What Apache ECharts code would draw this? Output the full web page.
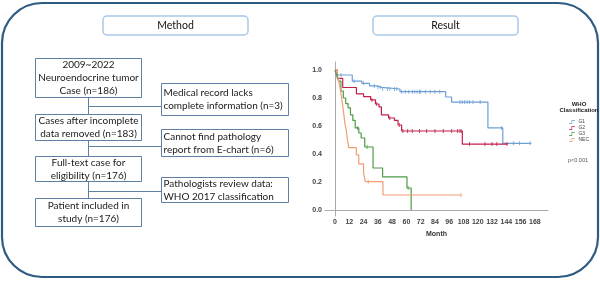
<!DOCTYPE html>
<html>
<head>
<meta charset="utf-8">
<script src="https://cdn.jsdelivr.net/npm/echarts@6/dist/echarts.min.js"></script>
<style>html,body{margin:0;padding:0;background:#fff}#c{width:600px;height:281px}</style>
</head>
<body>
<div id="c"></div>
<script>
// ---- data ----
const monthTicks = [0, 12, 24, 36, 48, 60, 72, 84, 96, 108, 120, 132, 144, 156, 168];
const survTicks = [0, 0.2, 0.4, 0.6, 0.8, 1.0];
const groupNames = ['G1', 'G2', 'G3', 'NEC'];

const g1Steps = [[0,1],[1.5,0.964],[14.5,0.92],[22.5,0.905],[29,0.886],[35,0.876],[39,0.864],[54.6,0.845],[93,0.807],[98,0.771],[128.5,0.586],[141,0.476],[165,0.476]];
const g1Censor = [[5,0.964],[16,0.92],[24,0.905],[33,0.886],[36,0.876],[38,0.876],[40,0.864],[44,0.864],[46,0.864],[50,0.864],[52,0.864],[56,0.845],[59,0.845],[62,0.845],[65,0.845],[67,0.845],[69,0.845],[71,0.845],[72,0.845],[76,0.845],[80,0.845],[84,0.845],[88,0.845],[105,0.771],[107,0.771],[109,0.771],[111,0.771],[113,0.771],[116,0.771],[122,0.771],[140,0.586],[150,0.476],[155,0.476],[164,0.476]];

const g2Steps = [[0,1],[2,0.94],[6.5,0.875],[18,0.83],[24,0.81],[30,0.786],[34,0.757],[37,0.736],[39,0.68],[45,0.657],[50,0.64],[53,0.607],[56,0.564],[107,0.471],[145,0.471]];
const g2Censor = [[31,0.786],[35,0.757],[46,0.657],[54,0.607],[57,0.564],[61,0.564],[65,0.564],[71,0.564],[77,0.564],[84,0.564],[91,0.564],[98,0.564],[103,0.564],[105,0.564],[106,0.564],[113,0.471],[126,0.471],[132,0.471],[136,0.471],[144.5,0.471]];

const g3Steps = [[0,1],[1.5,0.96],[3,0.92],[5,0.85],[7,0.80],[9,0.76],[11,0.73],[13,0.68],[15,0.64],[17,0.586],[20,0.55],[22,0.514],[25,0.45],[32,0.30],[40,0.236],[60.5,0.157],[64,0]];
const g3Censor = [[2,0.96],[19,0.586],[27,0.45],[61.5,0.157]];

const necSteps = [[0,1],[2,0.96],[3.5,0.91],[5,0.83],[6.3,0.76],[7.3,0.69],[8.3,0.62],[9.3,0.58],[10.3,0.512],[11.5,0.445],[18,0.393],[20,0.329],[24,0.262],[25.5,0.202],[40.3,0.107],[106,0.107]];
const necCensor = [[28,0.202],[106,0.107]];

const flowMain = [
  ['2009~2022', 'Neuroendocrine tumor', 'Case (n=186)'],
  ['Cases after incomplete', 'data removed (n=183)'],
  ['Full-text case for', 'eligibility (n=176)'],
  ['Patient included in', 'study (n=176)']
];
const flowSide = [
  ['Medical record lacks', 'complete information (n=3)'],
  ['Cannot find pathology', 'report from E-chart (n=6)'],
  ['Pathologists review data:', 'WHO 2017 classification']
];
const panelTitles = ['Method', 'Result'];
const legendTitle = ['WHO', 'Classification'];
const pText = 'p<0.001';

// ---- layout / styles ----
const colors = ['#6d9fd5', '#c21f48', '#4f9a45', '#f29d73'];
const FONT = 'Lato, "Liberation Sans", sans-serif';
const boxStroke = '#5f7fa5';
const mainBoxes = [[35,58,106,39],[35,114,106,26],[35,156,106,25],[35,198,106,28]];
const sideBoxes = [[161,83,127,32],[161,129,127,27],[161,177,127,25]];
const lineH = 13;

const g = [];
g.push({type:'rect', shape:{x:2,y:3,width:596,height:274,r:40}, style:{fill:'none', stroke:'#2f5b82', lineWidth:2.2}, z:1});
[[103,16,145,19],[373,16,145,19]].forEach((b,i)=>{
  g.push({type:'rect', shape:{x:b[0],y:b[1],width:b[2],height:b[3],r:4}, style:{fill:'#fff', stroke:'#a9c8e8', lineWidth:1.5}, z:2});
  g.push({type:'text', style:{text:panelTitles[i], x:b[0]+b[2]/2, y:b[1]+b[3]/2+0.5, font:'10.5px '+FONT, fill:'#111', align:'center', verticalAlign:'middle', textAlign:'center', textVerticalAlign:'middle'}, z:3});
});
function addBox(b, lines, centered){
  g.push({type:'rect', shape:{x:b[0]+0.5,y:b[1]+0.5,width:b[2],height:b[3]}, style:{fill:'#fff', stroke:boxStroke, lineWidth:1}, z:2});
  const n = lines.length;
  const cy = b[1] + b[3]/2 + 0.5;
  lines.forEach((t,k)=>{
    const y = cy + (k - (n-1)/2) * lineH;
    g.push({type:'text', style:{text:t, x: centered ? b[0]+b[2]/2+0.5 : b[0]+2.5, y:y, font:'10px '+FONT, fill:'#1a1a1a',
      align: centered?'center':'left', textAlign: centered?'center':'left', verticalAlign:'middle', textVerticalAlign:'middle'}, z:3});
  });
}
flowMain.forEach((l,i)=>addBox(mainBoxes[i], l, true));
flowSide.forEach((l,i)=>addBox(sideBoxes[i], l, false));
const connY = [106, 146, 191];
for (let i=0;i<3;i++){
  const top = mainBoxes[i][1]+mainBoxes[i][3]+0.5, bot = mainBoxes[i+1][1]+0.5;
  g.push({type:'line', shape:{x1:88.5,y1:top,x2:88.5,y2:bot}, style:{stroke:boxStroke, lineWidth:1}, z:2});
  g.push({type:'line', shape:{x1:88.5,y1:connY[i]+0.5,x2:161.5,y2:connY[i]+0.5}, style:{stroke:boxStroke, lineWidth:1}, z:2});
}
const smallFont = '"Liberation Sans Narrow", "Liberation Sans", Arial, sans-serif';
g.push({type:'text', style:{text:legendTitle[0], x:579, y:104, font:'bold 6px '+smallFont, fill:'#222', align:'center', textAlign:'center', verticalAlign:'middle', textVerticalAlign:'middle'}, z:3});
g.push({type:'text', style:{text:legendTitle[1], x:579, y:110.5, font:'bold 6px '+smallFont, fill:'#222', align:'center', textAlign:'center', verticalAlign:'middle', textVerticalAlign:'middle'}, z:3});
g.push({type:'text', style:{text:pText, x:578, y:160, font:'5.5px "Liberation Sans", Arial, sans-serif', fill:'#555', align:'center', textAlign:'center', verticalAlign:'middle', textVerticalAlign:'middle'}, z:3});

const stepsAll = [g1Steps, g2Steps, g3Steps, necSteps];
const censorAll = [g1Censor, g2Censor, g3Censor, necCensor];
const series = [];
stepsAll.forEach((d,i)=>{
  series.push({name:groupNames[i], type:'line', step:'end', data:d, showSymbol:false, symbol:'none',
    lineStyle:{color:colors[i], width:1.2}, itemStyle:{color:colors[i]}, animation:false, z:3});
});
censorAll.forEach((d,i)=>{
  series.push({name:groupNames[i]+'_c', type:'scatter', data:d, symbol:'rect', symbolSize:[1,4],
    itemStyle:{color:colors[i]}, animation:false, z:4, silent:true});
});

const chart = echarts.init(document.getElementById('c'), null, {renderer:'canvas'});
chart.setOption({
  animation:false,
  grid:{left:325, right:52, top:62, bottom:65},
  xAxis:{type:'value', min:-8.4, max:179,
    name:'Month', nameLocation:'middle', nameGap:15, nameTextStyle:{fontSize:7, color:'#333', fontFamily:'"Liberation Sans", Arial', fontWeight:'bold'},
    axisLine:{show:true, lineStyle:{color:'#aaa', width:1}}, axisTick:{show:false}, splitLine:{show:false},
    axisLabel:{customValues:monthTicks, fontSize:7, color:'#444', fontWeight:'bold', fontFamily:'"Liberation Sans", Arial', margin:3}},
  yAxis:{type:'value', min:-0.043, max:1.057,
    axisLine:{show:true, lineStyle:{color:'#aaa', width:1}}, axisTick:{show:false}, splitLine:{show:false},
    axisLabel:{customValues:survTicks, formatter:v=>v.toFixed(1), fontSize:7, color:'#444', fontWeight:'bold', fontFamily:'"Liberation Sans", Arial', margin:3}},
  legend:{data:groupNames, orient:'vertical', left:569, top:119.5, padding:0, itemWidth:9, itemHeight:4, itemGap:1,
    icon:'path://M0,9 L6,9 L6,1 L14,1 L14,2.5 L7.5,2.5 L7.5,10.5 L0,10.5 Z',
    textStyle:{fontSize:5, color:'#444', padding:[0,0,0,-3], fontFamily:'"Liberation Sans", Arial'}, selectedMode:false},
  graphic:{elements:g},
  series:series
});
</script>
</body>
</html>
